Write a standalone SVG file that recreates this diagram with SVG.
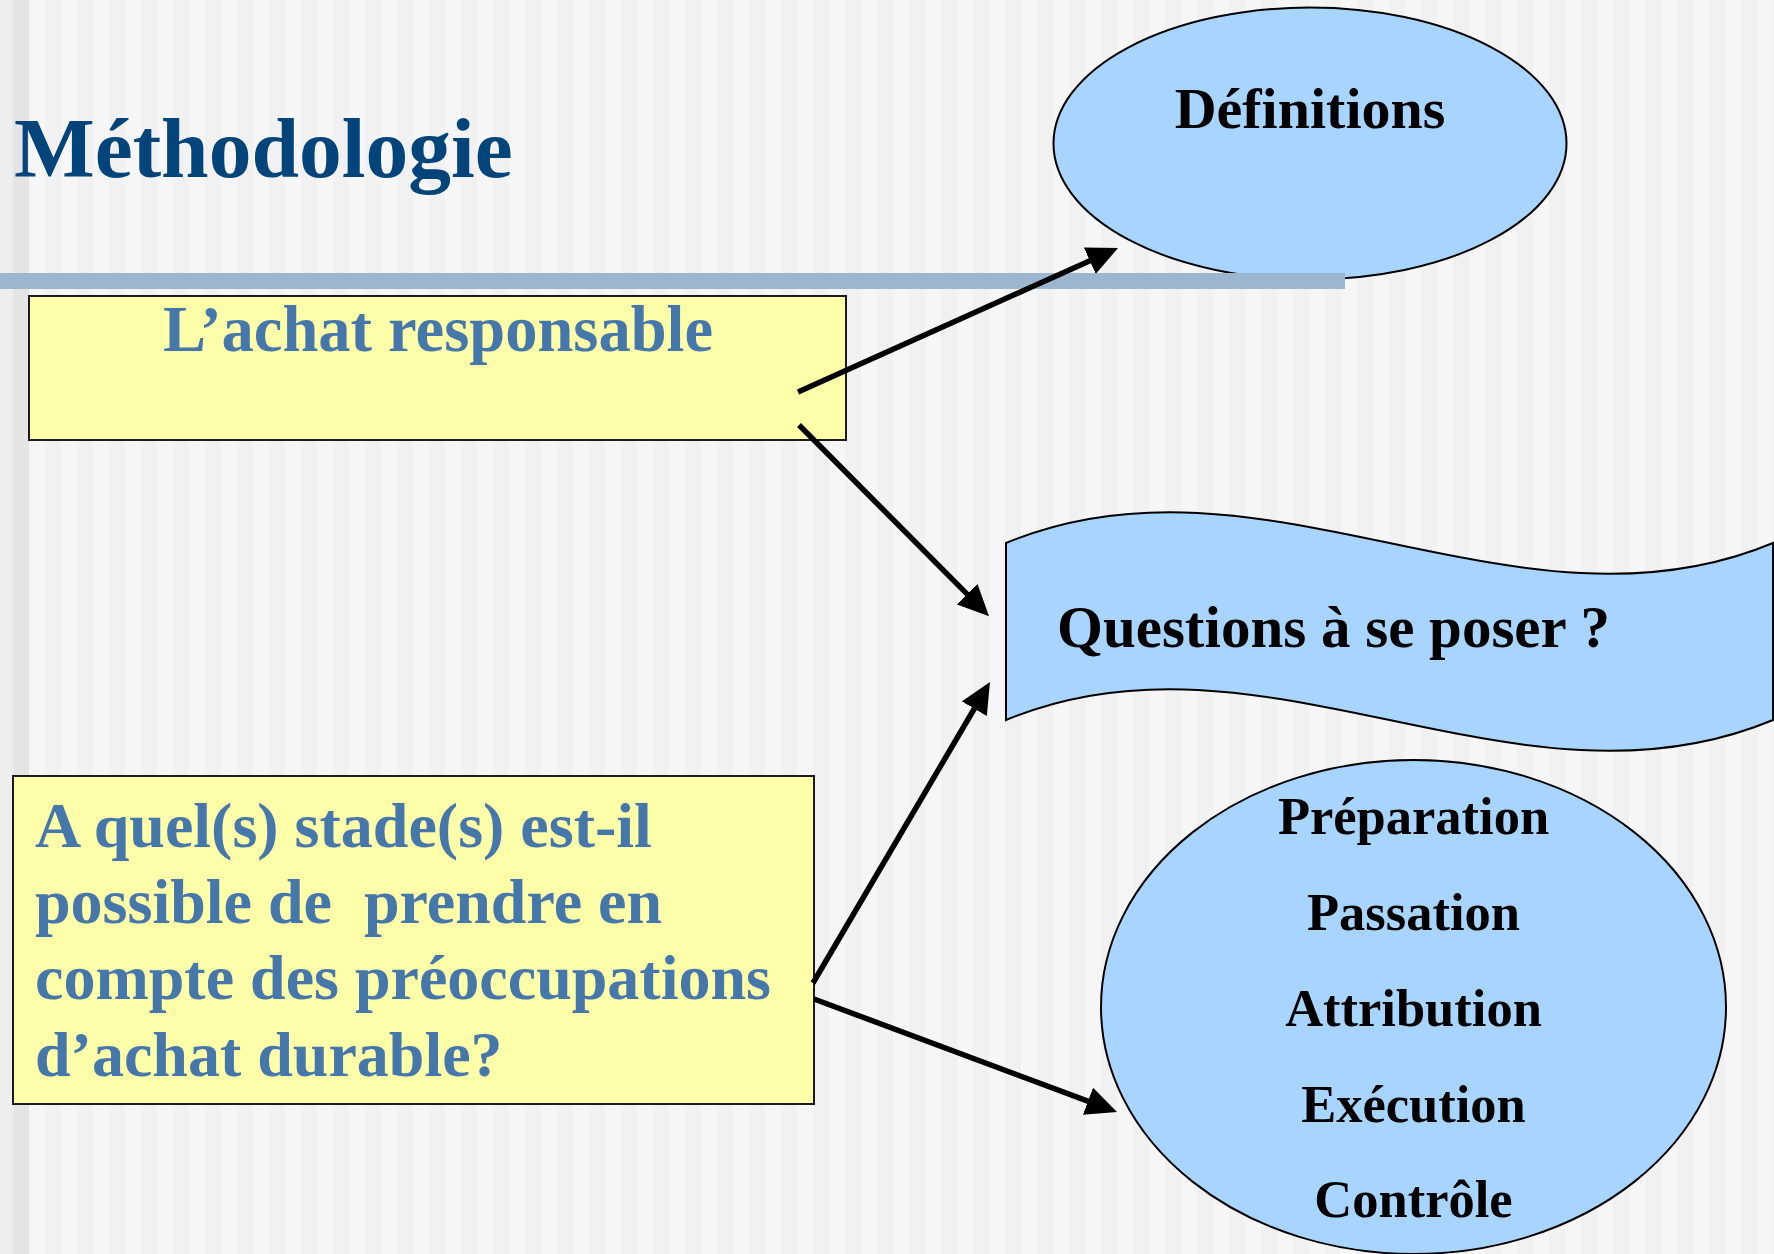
<svg xmlns="http://www.w3.org/2000/svg" width="1774" height="1254" viewBox="0 0 1774 1254">
  <defs>
    <pattern id="stripes" x="29" y="0" width="32" height="1254" patternUnits="userSpaceOnUse">
      <rect x="0" y="0" width="16" height="1254" fill="#f6f6f6"/>
      <rect x="16" y="0" width="16" height="1254" fill="#f1f1f1"/>
    </pattern>
    <marker id="arrow" markerUnits="userSpaceOnUse" markerWidth="32" markerHeight="30" refX="2" refY="14.5" orient="auto">
      <path d="M0,0 L31,14.5 L0,29 Z" fill="#000"/>
    </marker>
    <style>
      .serif { font-family: "Liberation Serif", "Times New Roman", serif; font-weight: bold; }
      .title { font-size: 85.5px; fill: #03457a; }
      .boxtext { font-size: 64.5px; fill: #4677aa; }
      .blk { fill: #000; }
      .ybox { fill: #ffffaa; stroke: #1a1a1a; stroke-width: 2; }
      .bshape { fill: #a8d5ff; stroke: #000; stroke-width: 2; }
      .conn { stroke: #000; stroke-width: 5.5; fill: none; marker-end: url(#arrow); }
    </style>
  </defs>

  <g id="background">
    <rect x="0" y="0" width="1774" height="1254" fill="#f4f4f4"/>
    <rect x="29" y="0" width="1745" height="1254" fill="url(#stripes)"/>
    <rect x="0" y="0" width="13" height="1254" fill="#eeeeee"/>
    <rect x="13" y="0" width="16" height="1254" fill="#e4e4e4"/>
  </g>

  <g id="title">
    <text class="serif title" x="14" y="177">Méthodologie</text>
  </g>

  <g id="node-definitions">
    <ellipse class="bshape" cx="1310" cy="143.5" rx="256.5" ry="136"/>
    <text class="serif blk" x="1310" y="128" font-size="58" text-anchor="middle">Définitions</text>
  </g>

  <g id="title-bar">
    <rect x="0" y="273" width="1345" height="16" fill="#9cb6cf"/>
  </g>

  <g id="node-achat">
    <rect class="ybox" x="29" y="296" width="817" height="144"/>
    <text class="serif boxtext" x="438" y="351" text-anchor="middle" font-size="64.8">L’achat responsable</text>
  </g>

  <g id="node-questions">
    <path class="bshape" d="M1006,543 C1262,436 1517,650 1773,543 L1773,720 C1517,827 1262,613 1006,720 Z"/>
    <text class="serif blk" x="1057" y="647" font-size="59">Questions à se poser ?</text>
  </g>

  <g id="node-stades">
    <rect class="ybox" x="13" y="776" width="801" height="328"/>
    <text class="serif boxtext" font-size="64" style="font-size:64px" xml:space="preserve"><tspan x="35" y="847">A quel(s) stade(s) est-il</tspan><tspan x="35" y="923">possible de  prendre en</tspan><tspan x="35" y="999">compte des préoccupations</tspan><tspan x="35" y="1076">d’achat durable?</tspan></text>
  </g>

  <g id="node-etapes">
    <ellipse class="bshape" cx="1413.5" cy="1007" rx="312.5" ry="247"/>
    <g class="serif blk" font-size="52.5" text-anchor="middle">
      <text x="1413.5" y="834">Préparation</text>
      <text x="1413.5" y="930">Passation</text>
      <text x="1413.5" y="1026">Attribution</text>
      <text x="1413.5" y="1122">Exécution</text>
      <text x="1413.5" y="1217">Contrôle</text>
    </g>
  </g>

  <g id="connectors">
    <line class="conn" x1="798" y1="392" x2="1091.6" y2="259.9"/>
    <line class="conn" x1="799" y1="425" x2="968.6" y2="595.6"/>
    <line class="conn" x1="813" y1="983" x2="975.3" y2="707"/>
    <line class="conn" x1="814" y1="999" x2="1089.8" y2="1101.9"/>
  </g>
</svg>
